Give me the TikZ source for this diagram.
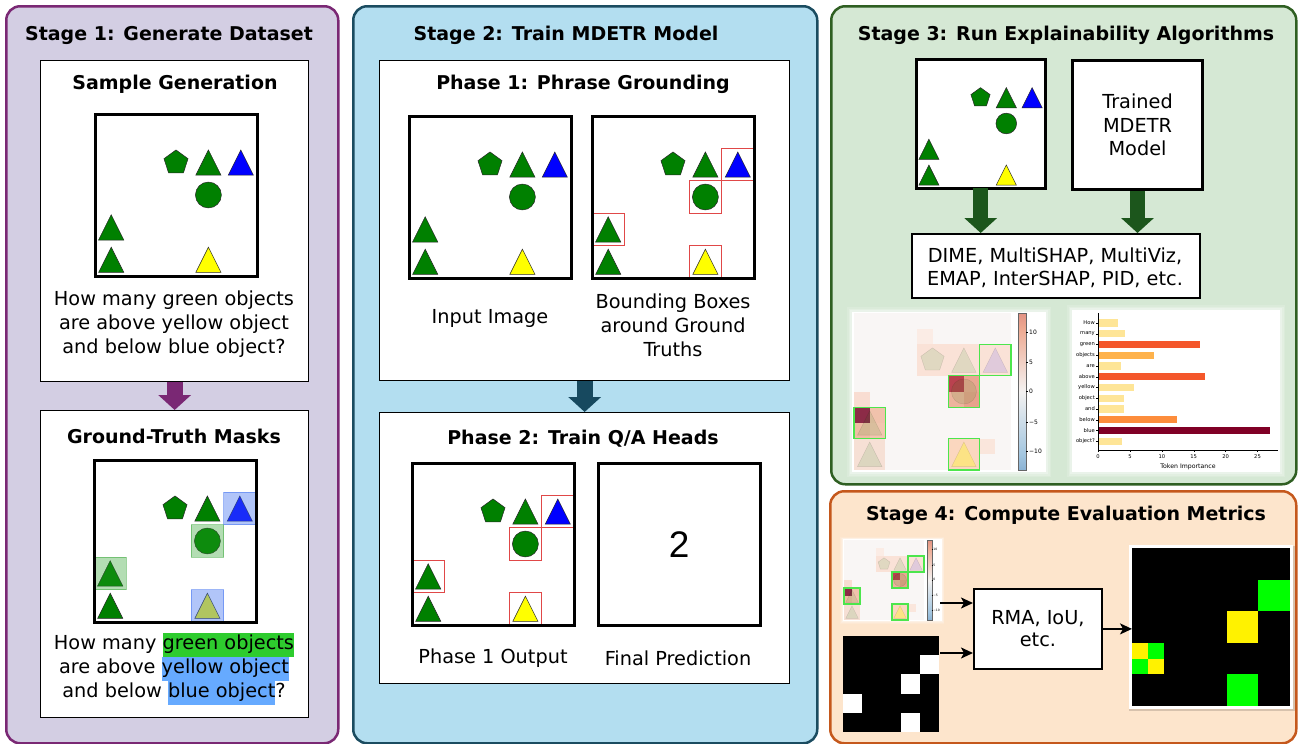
\documentclass[tikz,border=0pt]{standalone}
\usepackage{fontspec}
\setmainfont{DejaVu Sans}
\newfontfamily\arialfont{Liberation Sans}
\usetikzlibrary{arrows.meta}

\definecolor{sonefill}{HTML}{D3CEE3}
\definecolor{soneline}{HTML}{7A2874}
\definecolor{stwofill}{HTML}{B3DEF0}
\definecolor{stwoline}{HTML}{1B4C60}
\definecolor{sthreefill}{HTML}{D5E8D4}
\definecolor{sthreeline}{HTML}{2F5F22}
\definecolor{sfourfill}{HTML}{FDE5CC}
\definecolor{sfourline}{HTML}{C5581C}
\definecolor{arrowpurple}{HTML}{7A2874}
\definecolor{arrowteal}{HTML}{17495F}
\definecolor{arrowgreen}{HTML}{1C561C}
\definecolor{objgreen}{HTML}{008000}
\definecolor{objblue}{HTML}{0000FF}
\definecolor{objyellow}{HTML}{FFFF00}
\definecolor{hlgreen}{HTML}{2ECC2E}
\definecolor{hlblue}{HTML}{66AAFF}
\definecolor{maskgreen}{RGB}{40,160,40}
\definecolor{maskblue}{RGB}{60,110,240}
\definecolor{bbred}{HTML}{E04848}
\definecolor{hmgreen}{HTML}{4CE64C}
\definecolor{hmbase}{HTML}{F9F6F5}
\definecolor{cbA}{HTML}{3F5C88}
\definecolor{cbB}{HTML}{4C80B5}
\definecolor{cbC}{HTML}{A3C6E0}
\definecolor{cbD}{HTML}{F4F2F1}
\definecolor{cbE}{HTML}{EEAA92}
\definecolor{cbF}{HTML}{C0535C}
\definecolor{cbG}{HTML}{75304A}
\definecolor{barpale}{HTML}{FEE597}
\definecolor{barmid}{HTML}{FEB24C}
\definecolor{barorange}{HTML}{FD8D3C}
\definecolor{barred}{HTML}{F4572B}
\definecolor{bardark}{HTML}{800026}

\pgfdeclareverticalshading{cbar}{100bp}{color(0bp)=(cbA); color(12bp)=(cbB); color(30bp)=(cbC); color(50bp)=(cbD); color(70bp)=(cbE); color(88bp)=(cbF); color(100bp)=(cbG)}

\tikzset{
  panel/.style={draw, line width=2.5pt, rounded corners=14pt, anchor=north west, inner sep=0pt},
  wbox/.style={draw=black, line width=1.3pt, fill=white, anchor=north west, inner sep=0pt},
  imgnode/.style={fill=white, minimum size=162pt, inner sep=0pt, anchor=north west},
  imgframe/.style={line width=3pt},
  titletext/.style={font=\bfseries\fontsize{19}{22}\selectfont, inner sep=0pt},
  bodytext/.style={font=\fontsize{19.3}{24}\selectfont, inner sep=0pt, align=center},
  shp/.style={draw=black!85, line width=0.5pt},
  gshape/.style={shp, fill=objgreen},
  bshape/.style={shp, fill=objblue},
  yshape/.style={shp, fill=objyellow},
  hlg/.style={fill=maskgreen, fill opacity=0.35, draw=maskgreen, draw opacity=0.45, line width=0.8pt},
  hlb/.style={fill=maskblue, fill opacity=0.4, draw=maskblue, draw opacity=0.5, line width=0.8pt},
  redbox/.style={draw=bbred, line width=0.9pt},
  hmframe/.style={draw=hmgreen, line width=1.3pt},
  blockarrow/.style={line width=16pt, -{Triangle[width=32pt,length=15pt]}},
  thinarrow/.style={line width=1.8pt, -{Stealth[length=12pt,width=11pt,inset=3pt]}},
  ticklab/.style={font=\fontsize{5.2}{6}\selectfont, inner sep=0pt}
}

\newcommand\tri[3]{\draw[#3] (#1+0.11,#2+0.89) -- (#1+0.89,#2+0.89) -- (#1+0.5,#2+0.11) -- cycle;}
\newcommand\cellbox[3]{\draw[#3] (#1,#2) rectangle ++(1,1);}
\newcommand\sceneshapes{%
  \draw[gshape] (2.5,1.11) -- (2.871,1.3795) -- (2.729,1.8155) -- (2.271,1.8155) -- (2.129,1.3795) -- cycle;
  \tri{3}{1}{gshape}
  \tri{4}{1}{bshape}
  \draw[gshape] (3.5,2.5) circle[radius=0.4];
  \tri{0}{3}{gshape}
  \tri{0}{4}{gshape}
  \tri{3}{4}{yshape}
}
\newcommand\hlgr[1]{{\setlength{\fboxsep}{0pt}\colorbox{hlgreen}{\strut#1}}}
\newcommand\hlbl[1]{{\setlength{\fboxsep}{0pt}\colorbox{hlblue}{\strut#1}}}
\newcommand\glowbox[4]{%
  \fill[white, opacity=0.15] (#1-5,#2-5) rectangle (#3+5,#4+5);
  \fill[white, opacity=0.2] (#1-3.5,#2-3.5) rectangle (#3+3.5,#4+3.5);
  \fill[white, opacity=0.3] (#1-2,#2-2) rectangle (#3+2,#4+2);
  \fill[white] (#1,#2) rectangle (#3,#4);
}
\newcommand\heatmapcontent{%
  \glowbox{-2}{-1}{192}{159}
  \fill[hmbase] (0,0) rectangle (157,157);
  \begin{scope}[x=31.4pt, y=-31.4pt]
    \fill[fill={rgb,255:red,250;green,226;blue,215}] (2,1) rectangle (5,2);
    \fill[fill={rgb,255:red,251;green,236;blue,229}] (2,0.5) rectangle ++(0.5,0.5);
    \fill[fill={rgb,255:red,185;green,66;blue,79}] (3,2) rectangle ++(0.5,0.5);
    \fill[fill={rgb,255:red,233;green,168;blue,145}] (3.5,2) rectangle ++(0.5,0.5);
    \fill[fill={rgb,255:red,237;green,180;blue,157}] (3,2.5) rectangle ++(0.5,0.5);
    \fill[fill={rgb,255:red,231;green,162;blue,140}] (3.5,2.5) rectangle ++(0.5,0.5);
    \fill[fill={rgb,255:red,249;green,221;blue,210}] (0,2.5) rectangle ++(0.5,0.5);
    \fill[fill={rgb,255:red,140;green,43;blue,71}] (0,3) rectangle ++(0.5,0.5);
    \fill[fill={rgb,255:red,241;green,194;blue,172}] (0.5,3) rectangle ++(0.5,0.5);
    \fill[fill={rgb,255:red,238;green,189;blue,163}] (0,3.5) rectangle ++(0.5,0.5);
    \fill[fill={rgb,255:red,242;green,198;blue,175}] (0.5,3.5) rectangle ++(0.5,0.5);
    \fill[fill={rgb,255:red,246;green,224;blue,213}] (0,4) rectangle ++(1,1);
    \fill[fill={rgb,255:red,251;green,215;blue,191}] (3,4) rectangle ++(1,1);
    \fill[fill={rgb,255:red,250;green,230;blue,220}] (4,4) rectangle ++(0.5,0.5);
    \begin{scope}[gshape/.style={fill=objgreen, fill opacity=0.1, draw=black, draw opacity=0.12, line width=0.4pt},
                  bshape/.style={fill=objblue, fill opacity=0.1, draw=black, draw opacity=0.12, line width=0.4pt},
                  yshape/.style={fill=objyellow, fill opacity=0.3, draw=black, draw opacity=0.12, line width=0.4pt}]
      \sceneshapes
    \end{scope}
    \cellbox{4}{1}{hmframe}
    \cellbox{3}{2}{hmframe}
    \cellbox{0}{3}{hmframe}
    \cellbox{3}{4}{hmframe}
  \end{scope}
  \shade[shading=cbar] (164,0) rectangle (172,157);
  \draw[line width=0.3pt, black!60] (164,0) rectangle (172,157);
  \foreach \yy/\lab [count=\k] in {19/10, 49/5, 78/0, 109/\textminus5, 138/\textminus10}{
    \draw[line width=0.4pt] (172,\yy) -- (174,\yy);
    \node[anchor=west, inner sep=0pt, font=\fontsize{6}{7}\selectfont] (cbl\k) at (175,\yy) {\lab};
  }
}

\begin{document}
\begin{tikzpicture}[x=1pt, y=-1pt]
\useasboundingbox (0,0) rectangle (1299,744);

% ---------- panels ----------
\node[panel, draw=soneline, fill=sonefill, minimum width=332pt, minimum height=737pt] (s1) at (5,5) {};
\node[panel, draw=stwoline, fill=stwofill, minimum width=464pt, minimum height=737pt] (s2) at (352,5) {};
\node[panel, draw=sthreeline, fill=sthreefill, minimum width=465pt, minimum height=478pt] (s3) at (830,5) {};
\node[panel, draw=sfourline, fill=sfourfill, minimum width=466pt, minimum height=252pt] (s4) at (829,490) {};

\node[titletext] (t1) at (169,35.5) {Stage 1: Generate Dataset};
\node[titletext] (t2) at (566,35.5) {Stage 2: Train MDETR Model};
\node[titletext] (t3) at (1066,35.5) {Stage 3: Run Explainability Algorithms};
\node[titletext] (t4) at (1066,515) {Stage 4: Compute Evaluation Metrics};

% ---------- stage 1 ----------
\node[wbox, minimum width=268pt, minimum height=321pt] (sg) at (40,60) {};
\node[titletext] (sgt) at (175,84) {Sample Generation};
\node[imgnode] (im1) at (95,114) {};
\begin{scope}[shift={(95,114)}, x=32.4pt, y=-32.4pt]
  \sceneshapes
\end{scope}
\draw[imgframe] (im1.north west) rectangle (im1.south east);
\node[bodytext] (q1) at (174,324) {How many green objects\\are above yellow object\\and below blue object?};

\node[wbox, minimum width=268pt, minimum height=307pt] (gt) at (40,410) {};
\draw[blockarrow, arrowpurple] (sg.south) -- (gt.north);
\node[titletext] (gtt) at (174,436) {Ground-Truth Masks};
\node[imgnode] (im2) at (94,460) {};
\begin{scope}[shift={(94,460)}, x=32.4pt, y=-32.4pt]
  \sceneshapes
  \cellbox{3}{2}{hlg}
  \cellbox{0}{3}{hlg}
  \cellbox{4}{1}{hlb}
  \cellbox{3}{4}{hlb}
\end{scope}
\draw[imgframe] (im2.north west) rectangle (im2.south east);
\node[bodytext] (q2) at (174,669) {How many \hlgr{green objects}\\are above \hlbl{yellow object}\\and below \hlbl{blue object}?};

% ---------- stage 2 ----------
\node[wbox, minimum width=410pt, minimum height=320pt] (p1) at (379,60) {};
\node[titletext] (p1t) at (583,84) {Phase 1: Phrase Grounding};
\node[imgnode] (im3) at (409,116) {};
\begin{scope}[shift={(409,116)}, x=32.4pt, y=-32.4pt]
  \sceneshapes
\end{scope}
\draw[imgframe] (im3.north west) rectangle (im3.south east);
\node[imgnode] (im4) at (592,116) {};
\begin{scope}[shift={(592,116)}, x=32.4pt, y=-32.4pt]
  \sceneshapes
  \cellbox{4}{1}{redbox}
  \cellbox{3}{2}{redbox}
  \cellbox{0}{3}{redbox}
  \cellbox{3}{4}{redbox}
\end{scope}
\draw[imgframe] (im4.north west) rectangle (im4.south east);
\node[bodytext] (l1) at (490,318) {Input Image};
\node[bodytext] (l2) at (673,325) {Bounding Boxes\\around Ground\\Truths};

\node[wbox, minimum width=410pt, minimum height=271pt] (p2) at (379,412) {};
\draw[blockarrow, arrowteal] (p1.south) -- (p2.north);
\node[titletext] (p2t) at (583,439) {Phase 2: Train Q/A Heads};
\node[imgnode] (im5) at (412,463) {};
\begin{scope}[shift={(412,463)}, x=32.4pt, y=-32.4pt]
  \sceneshapes
  \cellbox{4}{1}{redbox}
  \cellbox{3}{2}{redbox}
  \cellbox{0}{3}{redbox}
  \cellbox{3}{4}{redbox}
\end{scope}
\draw[imgframe] (im5.north west) rectangle (im5.south east);
\node[imgnode] (im6) at (598,463) {};
\draw[imgframe] (im6.north west) rectangle (im6.south east);
\node[inner sep=0pt, font=\arialfont\fontsize{37}{40}\selectfont] (two) at (im6.center) {2};
\node[bodytext] (l3) at (493,658) {Phase 1 Output};
\node[bodytext] (l4) at (678,658) {Final Prediction};

% ---------- stage 3 ----------
\node[imgnode, minimum size=129pt] (im7) at (916,59) {};
\begin{scope}[shift={(916,59)}, x=25.8pt, y=-25.8pt]
  \sceneshapes
\end{scope}
\draw[imgframe] (im7.north west) rectangle (im7.south east);
\node[wbox, line width=3pt, minimum width=130pt, minimum height=129pt, align=center, font=\fontsize{19.3}{23.5}\selectfont] (tm) at (1071,59) {Trained\\MDETR\\Model};
\node[wbox, line width=1.6pt, minimum width=288pt, minimum height=64pt] (dime) at (911,233) {};
\node[bodytext, font=\fontsize{19.3}{23}\selectfont] (dimet) at (1055,268) {DIME, MultiSHAP, MultiViz,\\EMAP, InterSHAP, PID, etc.};
\draw[blockarrow, line width=15pt, arrowgreen] (im7.south) -- (im7.south |- dime.north);
\draw[blockarrow, line width=15pt, arrowgreen] (tm.south) -- (tm.south |- dime.north);

\begin{scope}[shift={(854,313)}]
  \heatmapcontent
\end{scope}

% bar chart
\glowbox{1072}{310}{1280}{472}
\foreach \lab/\val/\col [count=\i from 0] in {How/3.2/barpale, many/4.3/barpale, green/16.0/barred, objects/8.8/barmid, are/3.6/barpale, above/16.8/barred, yellow/5.6/barpale, object/4.0/barpale, and/4.0/barpale, below/12.4/barorange, blue/27.0/bardark, object?/3.8/barpale}{
  \pgfmathsetmacro\yy{323+\i*10.75}
  \fill[\col] (1098,\yy-3.7) rectangle ({1098+\val*6.38},\yy+3.7);
  \draw[line width=0.4pt] (1098,\yy) -- (1096.3,\yy);
  \node[ticklab, anchor=east] (bl\i) at (1095,\yy) {\lab};
}
\draw[line width=0.5pt] (1098,313) -- (1098,450) -- (1278,450);
\foreach \t [count=\k from 0] in {0,5,10,15,20,25}{
  \draw[line width=0.4pt] (1098+\t*6.38,450) -- (1098+\t*6.38,451.8);
  \node[ticklab] (bx\k) at (1098+\t*6.38,456.5) {\t};
}
\node[inner sep=0pt, font=\fontsize{6.2}{7}\selectfont] (xlab) at (1188,467) {Token Importance};

% ---------- stage 4 ----------
\begin{scope}[shift={(844,540)}, scale=0.51, transform shape]
  \heatmapcontent
\end{scope}
\node[fill=black, minimum size=96pt, inner sep=0pt, anchor=north west] (mask) at (843,636) {};
\begin{scope}[shift={(843,636)}, x=19.2pt, y=-19.2pt]
  \fill[white] (4,1) rectangle ++(1,1);
  \fill[white] (3,2) rectangle ++(1,1);
  \fill[white] (0,3) rectangle ++(1,1);
  \fill[white] (3,4) rectangle ++(1,1);
\end{scope}
\node[wbox, line width=1.8pt, minimum width=128pt, minimum height=80pt, align=center, font=\fontsize{19.3}{22}\selectfont] (rma) at (973,588) {RMA, IoU,\\etc.};

\fill[black, opacity=0.15] (1129,546) rectangle (1295,711);
\fill[white] (1129,545) rectangle (1293,709);
\node[fill=black, minimum size=158pt, inner sep=0pt, anchor=north west] (res) at (1132,548) {};
\begin{scope}[shift={(1132,548)}, x=31.6pt, y=-31.6pt]
  \fill[green] (4,1) rectangle ++(1,1);
  \fill[yellow] (3,2) rectangle ++(1,1);
  \fill[yellow] (0,3) rectangle ++(0.5,0.5);
  \fill[green] (0.5,3) rectangle ++(0.5,0.5);
  \fill[green] (0,3.5) rectangle ++(0.5,0.5);
  \fill[yellow] (0.5,3.5) rectangle ++(0.5,0.5);
  \fill[green] (3,4) rectangle ++(1,1);
\end{scope}

\coordinate (hmout) at (940,603);
\coordinate (maskout) at (940,653);
\draw[thinarrow] (hmout) -- (hmout -| rma.west);
\draw[thinarrow] (maskout) -- (maskout -| rma.west);
\draw[thinarrow] (rma.east) -- (rma.east -| res.west);
\end{tikzpicture}
\end{document}
